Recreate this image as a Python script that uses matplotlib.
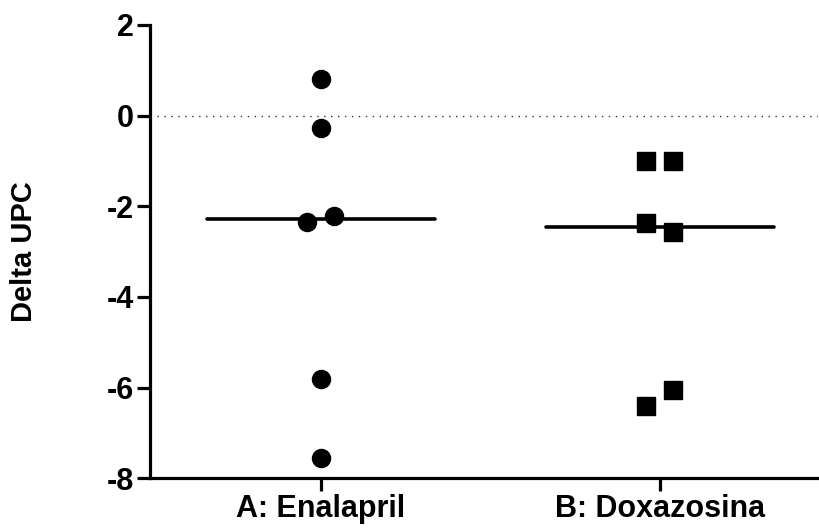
import numpy as np
import matplotlib
matplotlib.use('Agg')
import matplotlib.pyplot as plt

plt.rcParams['font.family'] = ['Liberation Sans', 'DejaVu Sans']
plt.rcParams['font.weight'] = 'bold'
plt.rcParams['axes.unicode_minus'] = False

# data
groups = ['A: Enalapril', 'B: Doxazosina']
enalapril = [0.81, -0.28, -2.34, -2.22, -5.81, -7.55]
enalapril_offset = [0, 0, -1, 1, 0, 0]
doxazosina = [-1.01, -0.99, -2.37, -2.56, -6.40, -6.06]
doxazosina_offset = [-1, 1, -1, 1, -1, 1]
medians = [-2.28, -2.46]

fig = plt.figure(figsize=(8.2, 5.29), dpi=100)
ax = fig.add_axes([150 / 820, 50.7 / 529, 668 / 820, 453.3 / 529])

jit = 0.04
ax.plot(0 + jit * np.array(enalapril_offset), enalapril, 'o', color='black',
        ms=13, mec='black', zorder=3, clip_on=False)
ax.plot(1 + jit * np.array(doxazosina_offset), doxazosina, 's', color='black',
        ms=13.5, mec='black', zorder=3, clip_on=False)

half = 0.336
for i, m in enumerate(medians):
    ax.plot([i - half, i + half], [m, m], color='black', lw=2.6,
            solid_capstyle='round', zorder=2)

ax.axhline(0, color='#333333', lw=1.0, linestyle=(0, (1, 4)), zorder=1)

ax.set_xlim(-0.503, 1.466)
ax.set_ylim(-8, 2)
ax.set_yticks([2, 0, -2, -4, -6, -8])
ax.set_xticks([0, 1])
ax.set_xticklabels(groups)

for s in ['top', 'right']:
    ax.spines[s].set_visible(False)
for s in ['left', 'bottom']:
    ax.spines[s].set_linewidth(2.3)

ax.tick_params(axis='both', length=9.5, width=2.3, labelsize=22, pad=2)
ax.tick_params(axis='x', labelsize=22, pad=2)

ax.set_ylabel('Delta UPC', fontsize=21, fontweight='bold')
ax.yaxis.set_label_coords(-0.168, 0.5)

plt.savefig('out.png', dpi=100)
